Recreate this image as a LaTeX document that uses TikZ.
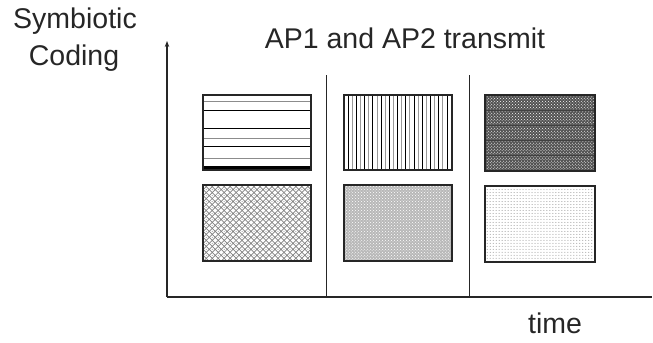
\documentclass[tikz,border=0pt]{standalone}
\usepackage{fontspec}
\setmainfont{Liberation Sans}
\usetikzlibrary{patterns,arrows.meta}
% open diamond lattice with a dot in each cell
\pgfdeclarepatternformonly{diamondmesh}{\pgfpoint{-1pt}{-1pt}}{\pgfpoint{7pt}{7pt}}{\pgfpoint{6pt}{6pt}}{
  \pgfsetlinewidth{0.7pt}
  \pgfpathmoveto{\pgfpoint{0pt}{3pt}}
  \pgfpathlineto{\pgfpoint{3pt}{6pt}}
  \pgfpathlineto{\pgfpoint{6pt}{3pt}}
  \pgfpathlineto{\pgfpoint{3pt}{0pt}}
  \pgfpathclose
  \pgfusepath{stroke}
  \pgfpathcircle{\pgfpoint{3pt}{3pt}}{0.5pt}
  \pgfusepath{fill}
}
\begin{document}
\begin{tikzpicture}[x=1bp,y=-1bp,
  txt/.style={font=\fontsize{28.5bp}{37bp}\selectfont, inner sep=0, anchor=base, text=black!85},
  slot/.style={draw=black!85, line width=1.4bp, inner sep=0, anchor=north west,
               minimum width=107bp, minimum height=74bp},
  axisline/.style={line width=1.3bp, draw=black!85},
  divider/.style={line width=1bp, draw=black!85},
  stripe/.style={line width=0.9bp},
]
\useasboundingbox (0,0) rectangle (653,342);

% labels
\node[txt] (ylab1) at (75,28) {Symbiotic};
\node[txt] (ylab2) at (74,65) {Coding};
\node[txt] (title) at (405,48) {AP1 and AP2 transmit};
\node[txt] (tlab) at (555,333) {time};

% axes and slot dividers
\coordinate (origin) at (167,297);
\coordinate (ytop) at (167,41);
\coordinate (xend) at (652,297);
\coordinate (d1top) at (326,75);
\coordinate (d1bot) at (326,297);
\coordinate (d2top) at (469,75);
\coordinate (d2bot) at (469,297);
\draw[axisline, -{Stealth[length=6bp,width=4.5bp]}] (origin) -- (ytop);
\draw[axisline] (origin) -- (xend);
\draw[divider] (d1top) -- (d1bot);
\draw[divider] (d2top) -- (d2bot);

% top row: AP1 signals
\node[slot] (s1) at (203,95) {};
\foreach \yy/\cc in {101.7/black!45, 110.7/black, 128.3/black, 138.3/black!45, 146.7/black, 158.3/black!45}
  \draw[stripe, \cc] (203,\yy) -- (310,\yy);
\draw[line width=2.2bp, black] (203,167.5) -- (310,167.5);

\node[slot] (s2) at (344,95) {};
\foreach \k in {1,...,25}{
  \pgfmathsetmacro{\xx}{344+\k*4.12}
  \pgfmathtruncatemacro{\odd}{mod(\k,2)}
  \ifnum\odd=1 \def\cc{black}\else\def\cc{black!40}\fi
  \draw[stripe, \cc] (\xx,95) -- (\xx,169);
}

\node[slot, minimum width=109bp, minimum height=75bp,
      preaction={fill=black!68}, pattern=crosshatch dots, pattern color=white!80] (s3) at (485,95) {};
\foreach \yy in {110,125,140,155}
  \draw[line width=0.6bp, black!75] (485,\yy) -- (594,\yy);

% bottom row: AP2 signals
\node[slot, minimum height=75bp, preaction={fill=white},
      pattern=diamondmesh, pattern color=black!50] (s4) at (203,185) {};
\node[slot, minimum height=75bp, preaction={fill=black!28},
      pattern=crosshatch dots, pattern color=white] (s5) at (344,185) {};
\node[slot, minimum width=109bp, minimum height=75bp,
      pattern=dots, pattern color=black!45] (s6) at (485,186) {};
% redraw borders on top of the fills
\foreach \n in {s1,s2,s3,s4,s5,s6}
  \draw[line width=1.4bp, black!85] (\n.north west) rectangle (\n.south east);
\end{tikzpicture}
\end{document}
